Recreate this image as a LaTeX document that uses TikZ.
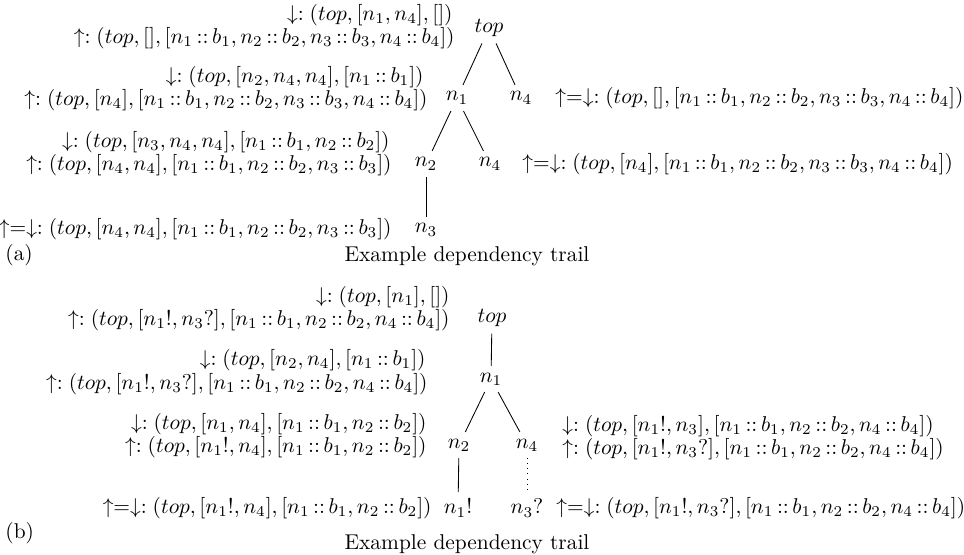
\documentclass[tikz,border=0pt]{standalone}
\usepackage{amsmath}
\usepackage{tikz}
\usetikzlibrary{positioning}
\newcommand{\nbind}[2]{#1\,{:}{:}\,#2}

\begin{document}
\begin{tikzpicture}[x=0.467pt, y=-0.467pt,
  trail/.style={inner sep=0pt},
  lab/.style={inner sep=0pt, anchor=east},
  rab/.style={inner sep=0pt, anchor=west},
  tnode/.style={inner sep=3pt}]
  \useasboundingbox (0,0) rectangle (964,555);

  % (a) annotations, left side
  \node[lab] (a1) at (453,15) {$\downarrow: (top, [n_1, n_4], [])$};
  \node[lab] (a2) at (455,38) {$\uparrow: (top, [], [\nbind{n_1}{b_1}, \nbind{n_2}{b_2}, \nbind{n_3}{b_3}, \nbind{n_4}{b_4}])$};
  \node[lab] (a3) at (424,77) {$\downarrow: (top, [n_2, n_4, n_4], [\nbind{n_1}{b_1}])$};
  \node[lab] (a4) at (428,100) {$\uparrow: (top, [n_4], [\nbind{n_1}{b_1}, \nbind{n_2}{b_2}, \nbind{n_3}{b_3}, \nbind{n_4}{b_4}])$};
  \node[lab] (a5) at (390,142) {$\downarrow: (top, [n_3, n_4, n_4], [\nbind{n_1}{b_1}, \nbind{n_2}{b_2}])$};
  \node[lab] (a6) at (392,165) {$\uparrow: (top, [n_4, n_4], [\nbind{n_1}{b_1}, \nbind{n_2}{b_2}, \nbind{n_3}{b_3}])$};
  \node[lab] (a7) at (392,229) {$\uparrow=\downarrow: (top, [n_4, n_4], [\nbind{n_1}{b_1}, \nbind{n_2}{b_2}, \nbind{n_3}{b_3}])$};
  % (a) annotations, right side
  \node[rab] (a8) at (555,98) {$\uparrow=\downarrow: (top, [], [\nbind{n_1}{b_1}, \nbind{n_2}{b_2}, \nbind{n_3}{b_3}, \nbind{n_4}{b_4}])$};
  \node[rab] (a9) at (522,164) {$\uparrow=\downarrow: (top, [n_4], [\nbind{n_1}{b_1}, \nbind{n_2}{b_2}, \nbind{n_3}{b_3}, \nbind{n_4}{b_4}])$};

  % (a) tree
  \node[tnode] (atop) at (489,28) {$top$};
  \node[tnode] (an1) at (457,98) {$n_1$};
  \node[tnode] (an4) at (521,98) {$n_4$};
  \node[tnode] (an2) at (426,164) {$n_2$};
  \node[tnode] (an4b) at (490,164) {$n_4$};
  \node[tnode] (an3) at (426,230) {$n_3$};
  \draw (atop) -- (an1);
  \draw (atop) -- (an4);
  \draw (an1) -- (an2);
  \draw (an1) -- (an4b);
  \draw (an2) -- (an3);

  \node[trail, anchor=west] (alab) at (5,255) {(a)};
  \node[trail] (acap) at (467,256) {Example dependency trail};

  % (b) annotations, left side
  \node[lab] (b1) at (450,297) {$\downarrow: (top, [n_1], [])$};
  \node[lab] (b2) at (450,320) {$\uparrow: (top, [n_1!, n_3?], [\nbind{n_1}{b_1}, \nbind{n_2}{b_2}, \nbind{n_4}{b_4}])$};
  \node[lab] (b3) at (426,360) {$\downarrow: (top, [n_2, n_4], [\nbind{n_1}{b_1}])$};
  \node[lab] (b4) at (428,384) {$\uparrow: (top, [n_1!, n_3?], [\nbind{n_1}{b_1}, \nbind{n_2}{b_2}, \nbind{n_4}{b_4}])$};
  \node[lab] (b5) at (427,424) {$\downarrow: (top, [n_1, n_4], [\nbind{n_1}{b_1}, \nbind{n_2}{b_2}])$};
  \node[lab] (b6) at (427,447) {$\uparrow: (top, [n_1!, n_4], [\nbind{n_1}{b_1}, \nbind{n_2}{b_2}])$};
  \node[lab] (b7) at (432,508) {$\uparrow=\downarrow: (top, [n_1!, n_4], [\nbind{n_1}{b_1}, \nbind{n_2}{b_2}])$};
  % (b) annotations, right side
  \node[rab] (b8) at (562,426) {$\downarrow: (top, [n_1!, n_3], [\nbind{n_1}{b_1}, \nbind{n_2}{b_2}, \nbind{n_4}{b_4}])$};
  \node[rab] (b9) at (562,449) {$\uparrow: (top, [n_1!, n_3?], [\nbind{n_1}{b_1}, \nbind{n_2}{b_2}, \nbind{n_4}{b_4}])$};
  \node[rab] (b10) at (556,508) {$\uparrow=\downarrow: (top, [n_1!, n_3?], [\nbind{n_1}{b_1}, \nbind{n_2}{b_2}, \nbind{n_4}{b_4}])$};

  % (b) tree
  \node[tnode] (btop) at (492,318) {$top$};
  \node[tnode] (bn1) at (491,379) {$n_1$};
  \node[tnode] (bn2) at (459,445) {$n_2$};
  \node[tnode] (bn4) at (527,445) {$n_4$};
  \node[tnode] (bn1x) at (458,508) {$n_1!$};
  \node[tnode] (bn3x) at (527,508) {$n_3?$};
  \draw (btop) -- (bn1);
  \draw (bn1) -- (bn2);
  \draw (bn1) -- (bn4);
  \draw (bn2) -- (bn1x);
  \draw[dotted] (bn4) -- (bn3x);

  \node[trail, anchor=west] (blab) at (5,533) {(b)};
  \node[trail] (bcap) at (467,544) {Example dependency trail};
\end{tikzpicture}
\end{document}
